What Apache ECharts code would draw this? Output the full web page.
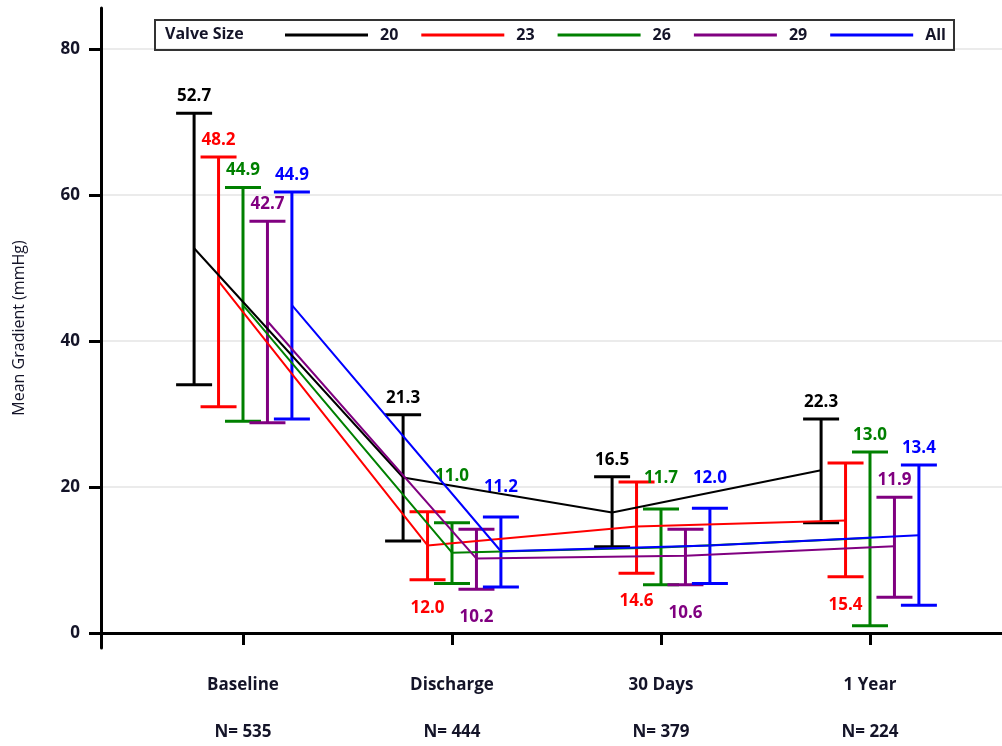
<!DOCTYPE html>
<html>
<head>
<meta charset="utf-8">
<script src="https://cdn.jsdelivr.net/npm/echarts@6/dist/echarts.min.js"></script>
<style>
html,body{margin:0;padding:0;background:#fff;}
#chart{width:1002px;height:746px;}
</style>
</head>
<body>
<div id="chart"></div>
<script>
// ---- data ----
const categories = ['Baseline', 'Discharge', '30 Days', '1 Year'];
const nCounts = [535, 444, 379, 224];
const yTicks = [0, 20, 40, 60, 80];
const sizes = ['20', '23', '26', '29', 'All'];

const mean20  = [52.7, 21.3, 16.5, 22.3];
const mean23  = [48.2, 12.0, 14.6, 15.4];
const mean26  = [44.9, 11.0, 11.7, 13.0];
const mean29  = [42.7, 10.2, 10.6, 11.9];
const meanAll = [44.9, 11.2, 12.0, 13.4];

const upper20  = [71.2, 29.9, 21.4, 29.3];
const lower20  = [34.0, 12.6, 11.8, 15.1];
const upper23  = [65.2, 16.6, 20.7, 23.3];
const lower23  = [31.0, 7.3, 8.2, 7.7];
const upper26  = [61.0, 15.1, 17.0, 24.8];
const lower26  = [29.0, 6.8, 6.6, 1.0];
const upper29  = [56.4, 14.2, 14.2, 18.6];
const lower29  = [28.8, 6.0, 6.6, 4.9];
const upperAll = [60.4, 15.9, 17.1, 23.0];
const lowerAll = [29.3, 6.3, 6.8, 3.8];

// ---- styling / layout ----
const colors = ['#000000', '#ff0000', '#008000', '#800080', '#0000ff'];
const groupStep = 0.117; // offset between sizes within a category (axis units)
// label placement: 'a' above the upper cap, 'b' below the lower cap; extra pixel shift
const labelSide = [
  ['a', 'a', 'a', 'a'],
  ['a', 'b', 'b', 'b'],
  ['a', 'a', 'a', 'a'],
  ['a', 'b', 'b', 'a'],
  ['a', 'a', 'a', 'a']
];
const labelShift = [
  [0, 0, 0, 0],
  [0, 0, 0, 0],
  [0, -30, -14, 0],
  [0, 0, 0, 0],
  [0, -13, -13, 0]
];

const means = [mean20, mean23, mean26, mean29, meanAll];
const uppers = [upper20, upper23, upper26, upper29, upperAll];
const lowers = [lower20, lower23, lower26, lower29, lowerAll];

const FONT = "'Open Sans', 'DejaVu Sans', sans-serif";
const TXT = '#141428';

const series = [];
sizes.forEach((name, s) => {
  const off = (s - 2) * groupStep;
  // mean lines
  series.push({
    type: 'line',
    name: name,
    z: 3,
    symbol: 'none',
    silent: true,
    lineStyle: { color: colors[s], width: 2 },
    itemStyle: { color: colors[s] },
    data: categories.map((c, i) => [i + 1 + off, means[s][i]])
  });
  // error bars + value labels
  series.push({
    type: 'custom',
    name: name,
    z: 2,
    silent: true,
    data: categories.map((c, i) => [i + 1 + off, lowers[s][i], uppers[s][i], means[s][i]]),
    renderItem: (params, api) => {
      const i = params.dataIndex;
      const x = api.value(0);
      const lo = api.coord([x, api.value(1)]);
      const hi = api.coord([x, api.value(2)]);
      const hw = 18;
      const st = { stroke: colors[s], lineWidth: 3 };
      const side = labelSide[s][i];
      const ty = (side === 'a' ? hi[1] - 17 : lo[1] + 28) + labelShift[s][i];
      return {
        type: 'group',
        children: [
          { type: 'line', shape: { x1: hi[0], y1: hi[1], x2: lo[0], y2: lo[1] }, style: st },
          { type: 'line', shape: { x1: hi[0] - hw, y1: hi[1], x2: hi[0] + hw, y2: hi[1] }, style: st },
          { type: 'line', shape: { x1: lo[0] - hw, y1: lo[1], x2: lo[0] + hw, y2: lo[1] }, style: st },
          { type: 'text', x: hi[0], y: ty, style: {
              text: api.value(3).toFixed(1), fill: colors[s], font: "bold 17px " + FONT,
              align: 'center', verticalAlign: 'middle' } }
        ]
      };
    }
  });
});

const chart = echarts.init(document.getElementById('chart'), null, { renderer: 'canvas' });
chart.setOption({
  animation: false,
  backgroundColor: '#ffffff',
  color: colors,
  grid: { left: 101, right: 0, top: 8, bottom: 98, containLabel: false, outerBoundsMode: 'none' },
  legend: {
    data: sizes.map(n => ({ name: n, icon: 'rect' })),
    left: 155, top: 20,
    padding: [7, 8, 7, 130],
    borderColor: '#333333', borderWidth: 2,
    itemWidth: 83, itemHeight: 3, itemGap: 23,
    textStyle: { fontFamily: FONT, fontWeight: 'bold', fontSize: 16, color: TXT, padding: [0, 0, 0, 7] },
    selectedMode: false
  },
  graphic: [{
    type: 'text', left: 165, top: 26,
    style: { text: 'Valve Size', font: "bold 16px " + FONT, fill: TXT }
  }],
  xAxis: {
    type: 'value',
    min: 1 - 142 / 209,
    max: 1 - 142 / 209 + 901 / 209,
    axisLine: { show: true, lineStyle: { color: '#000', width: 3 } },
    axisTick: { show: true, customValues: [1, 2, 3, 4], length: 12, lineStyle: { color: '#000', width: 3 } },
    axisLabel: {
      customValues: [1, 2, 3, 4], margin: 14,
      formatter: v => '{a|' + categories[Math.round(v) - 1] + '}\n{b|N= ' + nCounts[Math.round(v) - 1] + '}',
      rich: {
        a: { fontFamily: FONT, fontWeight: 'bold', fontSize: 17, color: TXT, lineHeight: 47 },
        b: { fontFamily: FONT, fontWeight: 'bold', fontSize: 17, color: TXT, lineHeight: 47 }
      }
    },
    splitLine: { show: false }
  },
  yAxis: {
    type: 'value',
    min: -2.05,
    max: 85.6,
    name: 'Mean Gradient (mmHg)',
    nameLocation: 'middle',
    nameGap: 74,
    nameTextStyle: { fontFamily: FONT, fontSize: 16, color: TXT },
    axisLine: { show: true, lineStyle: { color: '#000', width: 3 } },
    axisTick: { show: true, customValues: yTicks, length: 12, lineStyle: { color: '#000', width: 3 } },
    axisLabel: { customValues: yTicks, margin: 21, fontFamily: FONT, fontWeight: 'bold', fontSize: 17, color: TXT },
    splitLine: { show: true, lineStyle: { color: '#e4e4e4', width: 1.5 } }
  },
  series: series
});
</script>
</body>
</html>
